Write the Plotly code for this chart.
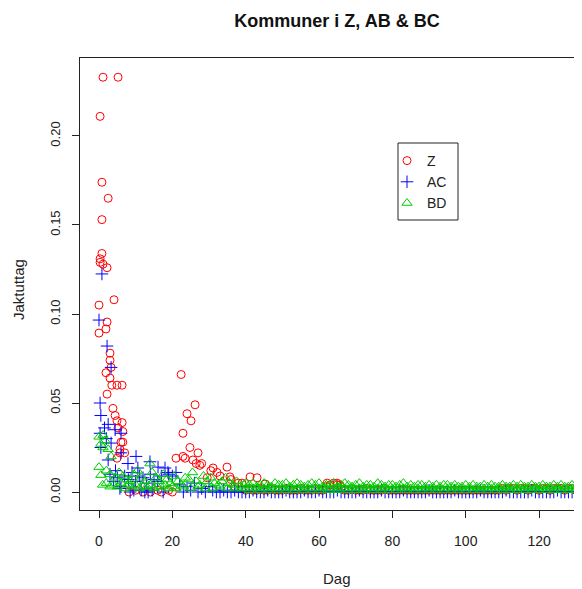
import plotly.graph_objects as go

# ---------------- data ----------------
# Z (red circles) - early days, individual points
z_day = [0.3, 1.1, 5.2, 0.8, 2.5, 0.8, 0.8, 0.3, 0.3, 2.2, 1.1, 4.1, 0.0, 2.2, 1.9, 0.0,
         3.0, 3.0, 3.3, 1.9, 3.0, 3.5, 4.9, 6.3, 2.2, 3.8, 4.4, 4.9, 6.3, 5.2, 6.5, 6.5,
         5.7, 4.9, 6.0, 5.7, 7.0, 8.2, 10.0, 12.0, 14.0, 16.0, 17.0, 19.0, 20.0,
         22.4, 26.2, 24.0, 25.1, 22.9, 24.8, 27.0, 22.9, 25.6, 27.5, 31.1, 34.9, 32.2,
         29.5, 35.7, 41.2, 43.1, 39.0, 45.3, 62.2, 64.9, 65.7, 21.0, 23.5, 26.5, 28.0,
         30.5, 38.0, 37.0, 33.0, 36.0]
z_val = [0.211, 0.233, 0.233, 0.174, 0.165, 0.153, 0.134, 0.131, 0.129, 0.126, 0.128,
         0.108, 0.105, 0.0955, 0.0916, 0.0893, 0.078, 0.074, 0.070, 0.067, 0.064, 0.060,
         0.060, 0.060, 0.055, 0.047, 0.043, 0.040, 0.039, 0.036, 0.034, 0.028, 0.022,
         0.019, 0.028, 0.024, 0.022, 0.000, 0.001, 0.000, 0.000, 0.001, 0.000, 0.001,
         0.000, 0.066, 0.049, 0.044, 0.040, 0.033, 0.025, 0.022, 0.020, 0.018, 0.015,
         0.0135, 0.014, 0.011, 0.008, 0.0085, 0.0085, 0.008, 0.005, 0.0045, 0.005,
         0.005, 0.004, 0.019, 0.019, 0.016, 0.016, 0.012, 0.005, 0.003, 0.009, 0.007]

# AC (blue plus) - early days
ac_day = [0.8, 0.0, 2.2, 3.3, 0.3, 0.5, 2.5, 0.3, 4.4, 6.0, 0.5, 3.3, 2.5, 6.0, 10.1,
          7.9, 10.6, 13.9, 16.1, 18.0, 18.8, 6.0, 5.7, 11.5, 13.4, 19.0, 20.0, 21.0,
          22.0, 3.0, 4.0, 5.0, 7.0, 8.0, 9.0, 10.0, 11.0, 12.0, 13.0, 14.0, 15.0, 16.0,
          17.0, 24.0, 26.0, 28.0, 30.0, 1.5, 2.0, 4.5, 8.5, 9.5, 12.5, 14.5, 17.5, 23.0,
          25.0, 27.0, 29.0, 31.0, 32.0, 33.0, 34.0, 35.0, 36.0, 37.0, 38.0, 39.0]
ac_val = [0.1225, 0.0966, 0.082, 0.070, 0.050, 0.043, 0.038, 0.033, 0.035, 0.033, 0.025,
          0.0275, 0.018, 0.022, 0.020, 0.016, 0.0135, 0.017, 0.014, 0.0135, 0.011, 0.003,
          0.002, 0.001, 0.000, 0.010, 0.009, 0.011, 0.004, 0.010, 0.006, 0.008, 0.009,
          0.007, 0.011, 0.006, 0.009, 0.008, 0.005, 0.010, 0.007, 0.006, 0.009, 0.003,
          0.005, 0.002, 0.003, 0.036, 0.030, 0.012, 0.000, 0.001, 0.000, 0.001, 0.000,
          0.000, 0.001, 0.000, 0.000, 0.001, 0.000, 0.000, 0.001, 0.000, 0.000, 0.001,
          0.000, 0.000]

# BD (green triangles) - early days
bd_day = [0.0, 1.1, 1.6, 0.5, 1.1, 2.5, 3.3, 0.0, 0.5, 2.0, 3.0, 4.5, 5.5, 6.5, 7.5,
          8.5, 9.5, 10.5, 11.5, 12.5, 13.9, 14.5, 15.5, 16.5, 17.5, 18.5, 19.5, 20.5,
          21.5, 22.5, 23.5, 24.5, 25.5, 26.5, 27.5, 28.5, 29.5, 30.5, 31.5, 32.5, 33.5,
          34.5, 35.5, 36.5, 37.5, 38.5, 39.5, 1.0, 3.0, 5.0, 7.0, 9.0, 11.0, 13.0, 15.0,
          17.0, 19.0, 21.0, 23.0, 25.0, 27.0, 29.0, 31.0, 33.0, 35.0, 37.0, 39.0, 2.0,
          4.0, 6.0, 8.0, 10.0, 12.0, 14.0, 16.0, 18.0, 20.0]
bd_val = [0.031, 0.032, 0.029, 0.027, 0.025, 0.024, 0.020, 0.014, 0.0095, 0.012, 0.010,
          0.008, 0.011, 0.009, 0.007, 0.006, 0.010, 0.012, 0.008, 0.006, 0.016, 0.011,
          0.008, 0.006, 0.010, 0.007, 0.005, 0.009, 0.006, 0.004, 0.008, 0.007, 0.011,
          0.006, 0.004, 0.009, 0.006, 0.008, 0.005, 0.004, 0.006, 0.008, 0.005, 0.004,
          0.006, 0.003, 0.004, 0.004, 0.003, 0.003, 0.002, 0.003, 0.002, 0.003, 0.002,
          0.003, 0.002, 0.002, 0.003, 0.002, 0.003, 0.002, 0.002, 0.003, 0.002, 0.002,
          0.002, 0.005, 0.004, 0.005, 0.004, 0.004, 0.003, 0.004, 0.003, 0.004, 0.003]

# tail: one value per day for days 40..130, per series
tail_day = list(range(40, 131))
z_tail = [0.001, 0.002, 0.001, 0.001, 0.002, 0.001, 0.001, 0.002, 0.001, 0.001,
          0.001, 0.002, 0.001, 0.001, 0.001, 0.002, 0.001, 0.001, 0.001, 0.002,
          0.001, 0.001, 0.003, 0.004, 0.005, 0.004, 0.003, 0.001, 0.001, 0.002,
          0.001, 0.001, 0.001, 0.002, 0.001, 0.001, 0.001, 0.001, 0.002, 0.001,
          0.001, 0.001, 0.001, 0.001, 0.001, 0.001, 0.001, 0.001, 0.001, 0.001,
          0.001, 0.001, 0.001, 0.001, 0.001, 0.001, 0.001, 0.001, 0.001, 0.001,
          0.001, 0.001, 0.001, 0.001, 0.001, 0.001, 0.001, 0.001, 0.001, 0.001,
          0.002, 0.001, 0.002, 0.002, 0.001, 0.002, 0.002, 0.001, 0.002, 0.002,
          0.001, 0.002, 0.002, 0.001, 0.002, 0.002, 0.002, 0.001, 0.002, 0.002,
          0.001]
ac_tail = [0.000, 0.000, 0.001, 0.000, 0.000, 0.000, 0.001, 0.000, 0.000, 0.000,
           0.000, 0.001, 0.000, 0.000, 0.000, 0.000, 0.001, 0.000, 0.000, 0.000,
           0.001, 0.000, 0.000, 0.000, 0.000, 0.001, 0.000, 0.000, 0.000, 0.000,
           0.000, 0.001, 0.000, 0.000, 0.000, 0.000, 0.000, 0.001, 0.000, 0.000,
           0.000, 0.000, 0.000, 0.001, 0.000, 0.000, 0.000, 0.000, 0.000, 0.000,
           0.001, 0.000, 0.000, 0.000, 0.000, 0.000, 0.000, 0.001, 0.000, 0.000,
           0.000, 0.000, 0.000, 0.000, 0.001, 0.000, 0.000, 0.000, 0.000, 0.000,
           0.000, 0.001, 0.000, 0.000, 0.000, 0.000, 0.000, 0.000, 0.001, 0.000,
           0.000, 0.000, 0.000, 0.000, 0.000, 0.001, 0.000, 0.000, 0.000, 0.000,
           0.000]
bd_tail_hi = [0.005, 0.004, 0.005, 0.003, 0.004, 0.005, 0.004, 0.003, 0.005, 0.004,
              0.004, 0.005, 0.003, 0.004, 0.005, 0.004, 0.003, 0.004, 0.005, 0.004,
              0.005, 0.003, 0.004, 0.004, 0.005, 0.003, 0.004, 0.005, 0.004, 0.003,
              0.004, 0.005, 0.003, 0.004, 0.004, 0.003, 0.005, 0.004, 0.003, 0.004,
              0.004, 0.003, 0.004, 0.005, 0.003, 0.004, 0.003, 0.004, 0.004, 0.003,
              0.004, 0.003, 0.004, 0.003, 0.004, 0.004, 0.003, 0.004, 0.003, 0.003,
              0.004, 0.003, 0.004, 0.003, 0.003, 0.004, 0.003, 0.004, 0.003, 0.003,
              0.004, 0.003, 0.003, 0.004, 0.003, 0.004, 0.003, 0.003, 0.004, 0.003,
              0.003, 0.004, 0.003, 0.003, 0.004, 0.003, 0.004, 0.003, 0.003, 0.004,
              0.003]
bd_tail_lo = [0.002, 0.001, 0.002, 0.002, 0.001, 0.002, 0.001, 0.002, 0.002, 0.001,
              0.002, 0.001, 0.002, 0.001, 0.002, 0.002, 0.001, 0.002, 0.001, 0.002,
              0.001, 0.002, 0.002, 0.001, 0.002, 0.001, 0.002, 0.002, 0.001, 0.002,
              0.001, 0.002, 0.001, 0.002, 0.002, 0.001, 0.002, 0.001, 0.002, 0.001,
              0.002, 0.001, 0.002, 0.002, 0.001, 0.002, 0.001, 0.002, 0.001, 0.002,
              0.001, 0.002, 0.001, 0.002, 0.001, 0.002, 0.001, 0.002, 0.001, 0.002,
              0.001, 0.002, 0.001, 0.002, 0.001, 0.002, 0.001, 0.002, 0.001, 0.002,
              0.001, 0.002, 0.001, 0.002, 0.001, 0.002, 0.001, 0.002, 0.001, 0.002,
              0.001, 0.002, 0.001, 0.002, 0.001, 0.002, 0.001, 0.002, 0.001, 0.002,
              0.001]

series_names = ["Z", "AC", "BD"]
x_ticks = [0, 20, 40, 60, 80, 100, 120]
y_ticks = [0.00, 0.05, 0.10, 0.15, 0.20]
y_tick_text = ["0.00", "0.05", "0.10", "0.15", "0.20"]

# ---------------- figure ----------------
RED, BLUE, GREEN = "#FF0000", "#0000FF", "#00CD00"
FONT = "Liberation Sans, Arial, Helvetica, sans-serif"

fig = go.Figure()
fig.add_trace(go.Scatter(
    x=z_day + tail_day, y=z_val + z_tail, mode="markers", name=series_names[0],
    marker=dict(symbol="circle-open", size=8, color=RED, line=dict(width=1, color=RED))))
fig.add_trace(go.Scatter(
    x=ac_day + tail_day, y=ac_val + ac_tail, mode="markers", name=series_names[1],
    marker=dict(symbol="cross-thin-open", size=9, color=BLUE, line=dict(width=1, color=BLUE))))
fig.add_trace(go.Scatter(
    x=bd_day + tail_day + tail_day, y=bd_val + bd_tail_hi + bd_tail_lo, mode="markers",
    name=series_names[2],
    marker=dict(symbol="triangle-up-open", size=9, color=GREEN, line=dict(width=1, color=GREEN))))

# the page body has an 8px margin, so everything is laid out 8px up/left
OFF = 8
W, H = 582 - OFF, 589 - OFF
L, T = 80 - OFF, 58 - OFF
B = H - (510 - OFF)
PW, PH = W - L, H - T - B


def px_x(px):
    return (px - OFF - L) / PW


def px_y(py):
    return (H - B - (py - OFF)) / PH


fig.update_layout(
    width=W, height=H,
    margin=dict(l=L, r=0, t=T, b=B, autoexpand=False),
    paper_bgcolor="white", plot_bgcolor="white",
    font=dict(family=FONT, size=12, color="#222"),
    showlegend=True,
    legend=dict(x=px_x(387), y=px_y(145), xanchor="left",
                yanchor="top", borderwidth=0, bgcolor="rgba(0,0,0,0)",
                font=dict(size=14, color="#222"), itemwidth=30, tracegroupgap=0),
    shapes=[dict(type="rect", xref="paper", yref="paper",
                 x0=px_x(398), x1=px_x(458), y0=px_y(220), y1=px_y(143),
                 line=dict(color="#222", width=1), fillcolor="white", layer="above")],
    title=dict(text="<b>Kommuner i Z, AB & BC</b>", x=(337 - OFF) / W, xref="container",
               xanchor="center", y=1 - (21 - OFF) / H, yref="container", yanchor="middle",
               font=dict(size=18, color="#111")),
    annotations=[
        dict(text="Dag", xref="paper", yref="paper", x=px_x(337),
             y=px_y(578), xanchor="center", yanchor="middle",
             showarrow=False, font=dict(size=15, color="#222")),
        dict(text="Jaktuttag", xref="paper", yref="paper", x=px_x(18),
             y=px_y(290), xanchor="center", yanchor="middle",
             textangle=-90, showarrow=False, font=dict(size=15, color="#222")),
    ],
)
fig.update_xaxes(range=[-5.18, 131.7], tickvals=x_ticks, ticks="outside", ticklen=7,
                 tickcolor="#222", showline=True, linecolor="#222", linewidth=1,
                 mirror=True, showgrid=False, zeroline=False, ticklabelstandoff=11,
                 tickfont=dict(size=14))
fig.update_yaxes(range=[-0.0101, 0.2438], tickvals=y_ticks, ticktext=y_tick_text,
                 ticks="outside", ticklen=7, tickcolor="#222", showline=True,
                 linecolor="#222", linewidth=1, mirror=False, showgrid=False,
                 zeroline=False, tickangle=-90, ticklabelstandoff=7,
                 tickfont=dict(size=13))

fig.write_html("out.html")
